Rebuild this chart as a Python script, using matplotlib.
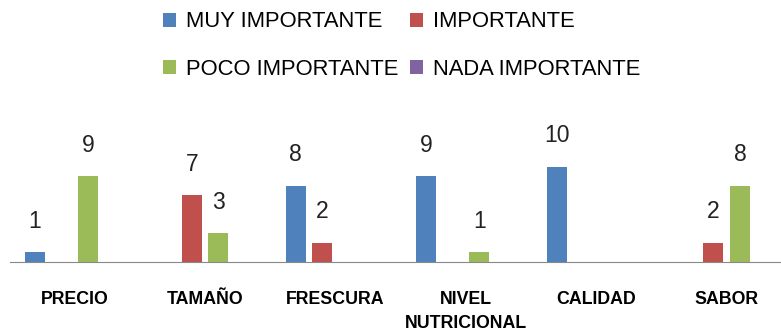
import matplotlib
matplotlib.use("Agg")
import matplotlib.pyplot as plt
import numpy as np

# survey answers per attribute
CATEGORIES = ["PRECIO", "TAMAÑO", "FRESCURA", "NIVEL\nNUTRICIONAL", "CALIDAD", "SABOR"]
SERIES = ["MUY IMPORTANTE", "IMPORTANTE", "POCO IMPORTANTE", "NADA IMPORTANTE"]
MUY_IMPORTANTE = [1, 0, 8, 9, 10, 0]
IMPORTANTE = [0, 7, 2, 0, 0, 2]
POCO_IMPORTANTE = [9, 3, 0, 1, 0, 8]
NADA_IMPORTANTE = [0, 0, 0, 0, 0, 0]
COLORS = ["#4F81BD", "#C0504D", "#9BBB59", "#8064A2"]

plt.rcParams["font.family"] = ["Liberation Sans", "DejaVu Sans"]

W, H = 781, 335
fig = plt.figure(figsize=(W / 100, H / 100), dpi=100)
ax = fig.add_axes([9.5 / W, (H - 262) / H, 782.4 / W, 142 / H])

x = np.arange(len(CATEGORIES))
step = 0.203
width = 0.153
all_vals = [MUY_IMPORTANTE, IMPORTANTE, POCO_IMPORTANTE, NADA_IMPORTANTE]
handles = []
for i, (name, vals, col) in enumerate(zip(SERIES, all_vals, COLORS)):
    bars = ax.bar(x + (i - 1.5) * step, vals, width, color=col, label=name)
    handles.append(bars)
    ax.bar_label(bars, labels=[str(v) if v else "" for v in vals],
                 padding=14, fontsize=16.5, color="#222222")

ax.set_xlim(-0.5, len(CATEGORIES) - 0.5)
ax.set_ylim(0, 14.87)
ax.set_xticks(x)
ax.set_xticklabels(CATEGORIES, fontsize=12.8, fontweight="bold",
                   linespacing=1.55)
ax.tick_params(axis="x", length=0, pad=21)
ax.set_yticks([])
for side in ["top", "right", "left"]:
    ax.spines[side].set_visible(False)
ax.spines["bottom"].set_color("#898989")
ax.spines["bottom"].set_linewidth(0.8)

# legend fills column-wise, so reorder to get row-wise layout
order = [0, 2, 1, 3]
fig.legend(handles=[handles[k] for k in order], labels=[SERIES[k] for k in order],
           ncol=2, frameon=False,
           loc="upper left", bbox_to_anchor=(143 / W, 1.025),
           fontsize=15.8, handlelength=0.6, handleheight=0.6,
           handletextpad=0.45, columnspacing=0.55, labelspacing=1.2)

fig.savefig("out.png", dpi=100)
